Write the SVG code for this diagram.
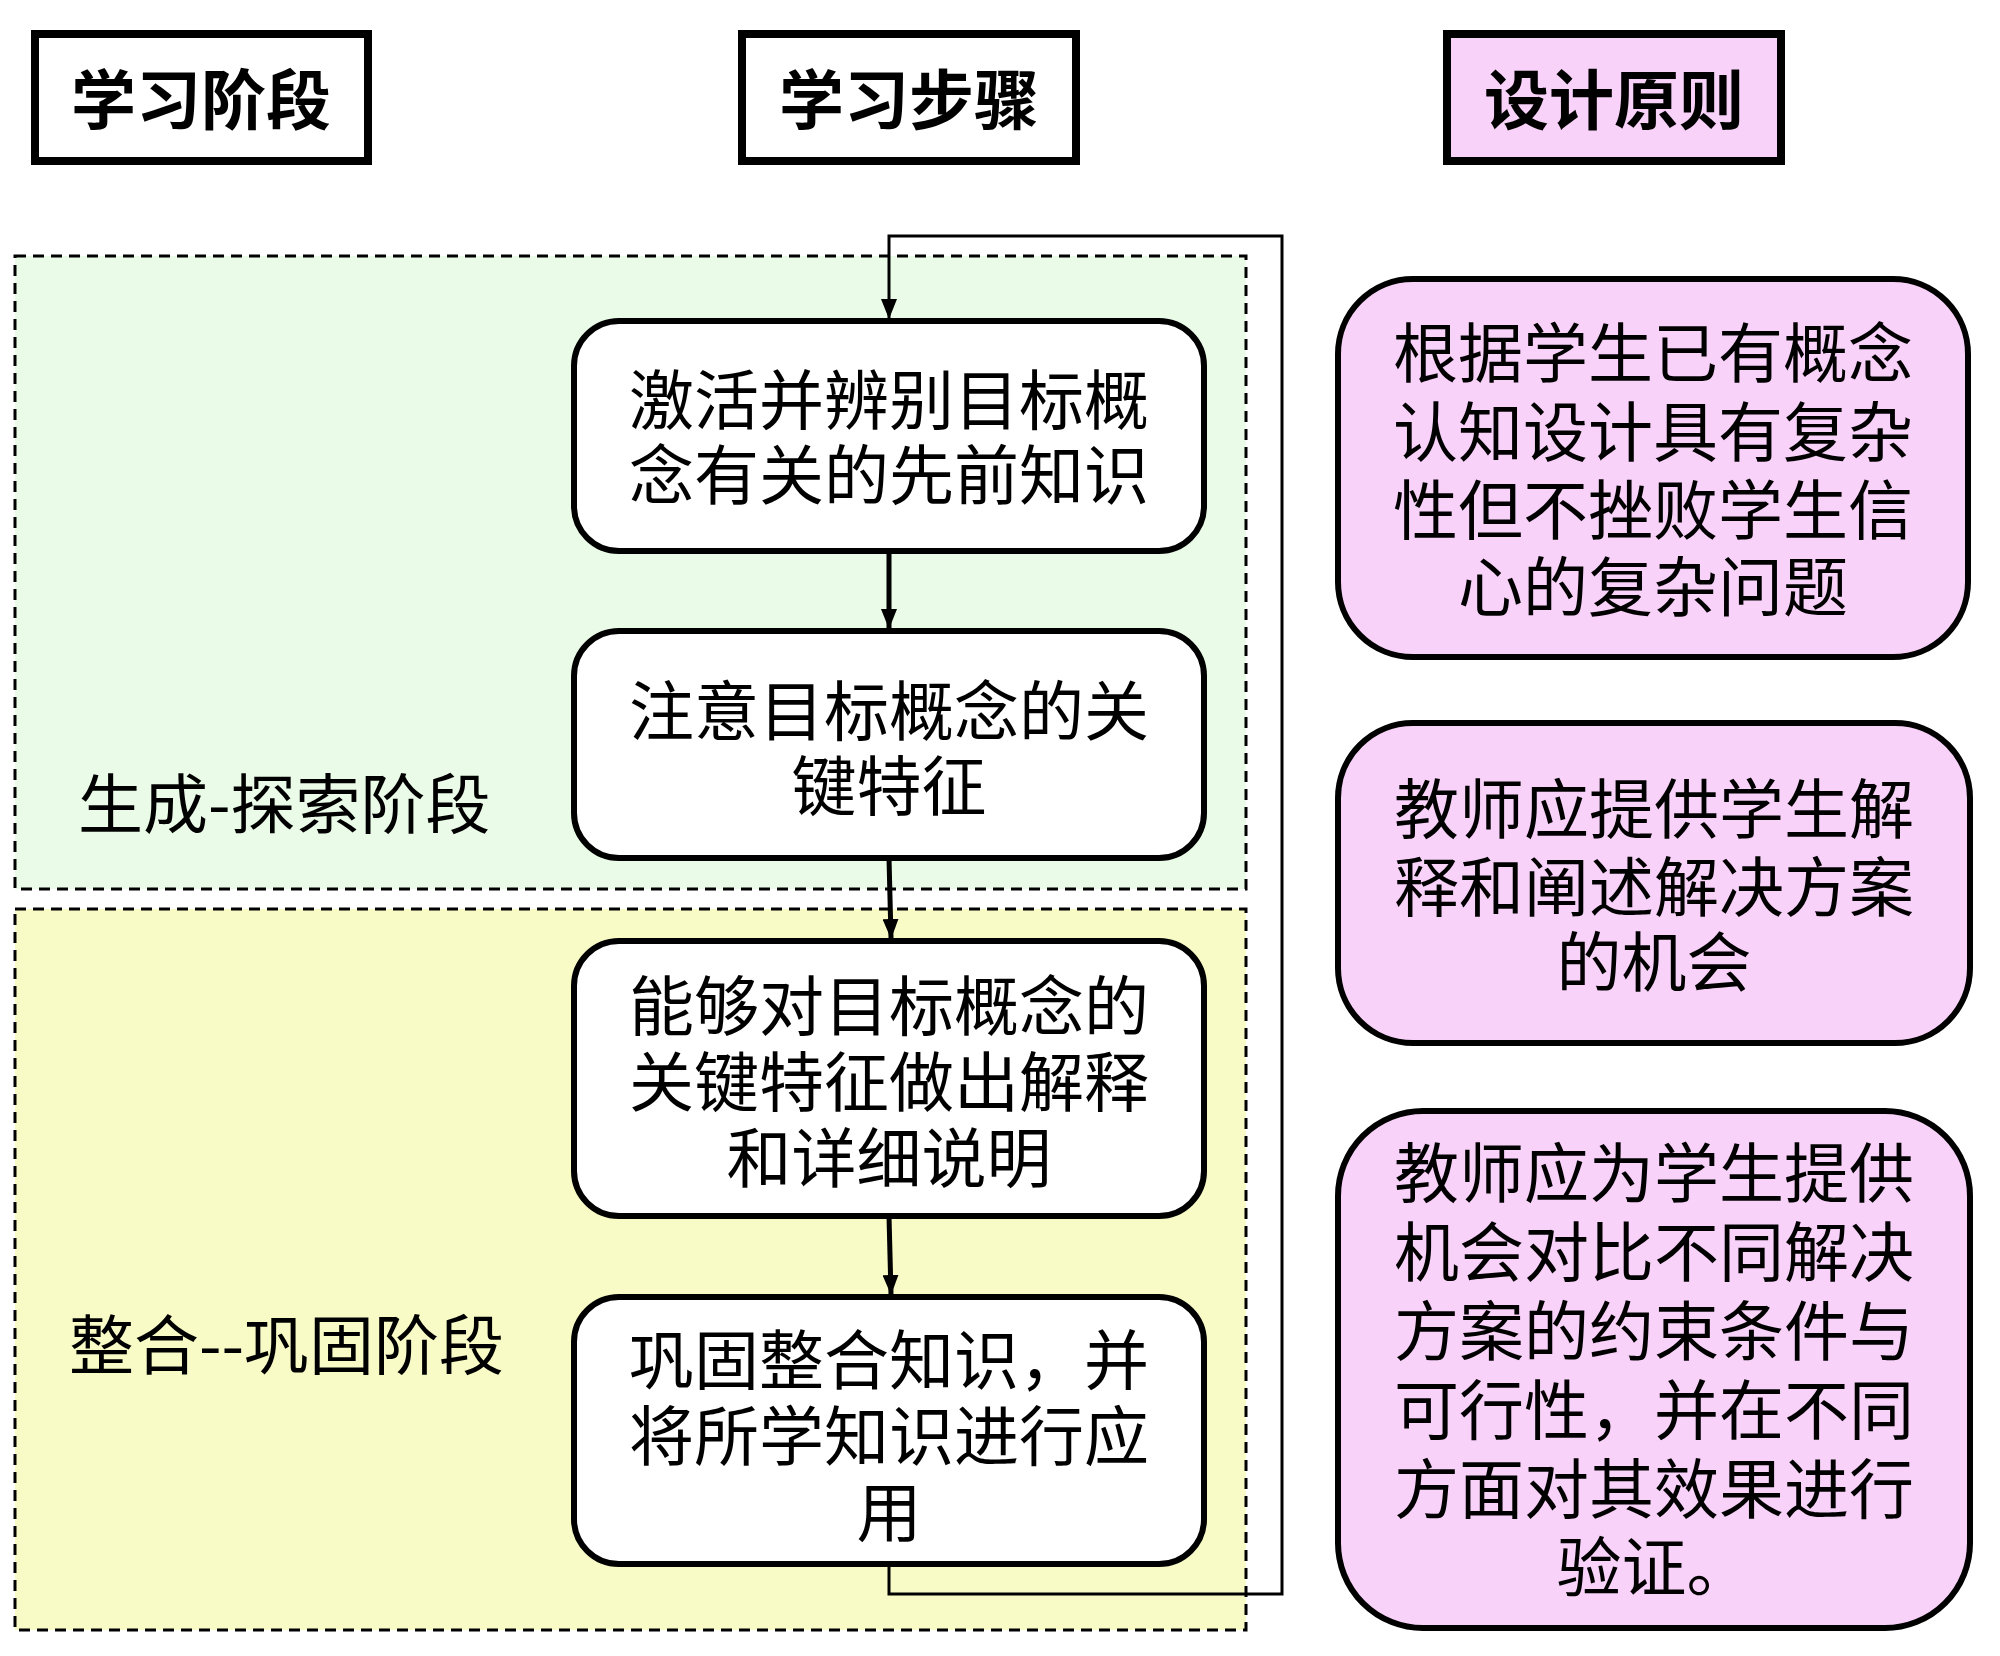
<svg xmlns="http://www.w3.org/2000/svg" width="2000" height="1656" viewBox="0 0 2000 1656">
<style>
.hdr{stroke:#000;stroke-width:8}
.ht{font-family:"Noto Sans CJK SC",sans-serif;font-size:65px;font-weight:bold;fill:#000;text-anchor:middle;dominant-baseline:central}
.zone{stroke:#000;stroke-width:3;stroke-dasharray:11 7}
.step{fill:#fff;stroke:#000;stroke-width:6}
.prin{fill:#F8D2F8;stroke:#000;stroke-width:6}
.t{font-family:"Noto Sans CJK SC",sans-serif;font-size:65px;fill:#000;text-anchor:middle;dominant-baseline:central}
.lab{font-family:"Noto Sans CJK SC",sans-serif;font-size:65px;fill:#000;dominant-baseline:central}
.c{fill:none;stroke:#000;stroke-width:5}
.loop{fill:none;stroke:#000;stroke-width:3}
</style>
<defs>
<marker id="ahb" markerWidth="20" markerHeight="16" refX="19" refY="8" orient="auto" markerUnits="userSpaceOnUse" viewBox="0 0 20 16">
<path d="M0,0 L20,8 L0,16 Z" fill="#000"/>
</marker>
</defs>
<rect width="2000" height="1656" fill="#fff"/>

<g id="zone-explore">
<rect class="zone" x="15" y="256" width="1231" height="633" fill="#EAFBE8"/>
<text class="lab" x="78" y="800">生成-探索阶段</text>
</g>
<g id="zone-integrate">
<rect class="zone" x="15" y="909" width="1231" height="721" fill="#F8FBC6"/>
<text class="lab" x="69" y="1341">整合--巩固阶段</text>
</g>

<g id="hdr-stage">
<rect class="hdr" x="35" y="34" width="333" height="127" fill="#fff"/>
<text class="ht" x="201" y="96">学习阶段</text>
</g>
<g id="hdr-steps">
<rect class="hdr" x="742" y="34" width="334" height="127" fill="#fff"/>
<text class="ht" x="909" y="96">学习步骤</text>
</g>
<g id="hdr-principles">
<rect class="hdr" x="1447" y="34" width="334" height="127" fill="#F8D2F8"/>
<text class="ht" x="1614" y="96">设计原则</text>
</g>

<g id="connectors">
<path class="loop" d="M889,1564 L889,1594 L1282,1594 L1282,236 L889,236 L889,318" marker-end="url(#ahb)"/>
<line class="c" x1="889" y1="551" x2="889" y2="628" marker-end="url(#ahb)"/>
<line class="c" x1="889" y1="858" x2="891" y2="938" marker-end="url(#ahb)"/>
<line class="c" x1="889" y1="1216" x2="891" y2="1294" marker-end="url(#ahb)"/>
</g>

<g id="step1">
<rect class="step" x="574" y="321" width="630" height="230" rx="45"/>
<text class="t" x="889" y="396">激活并辨别目标概<tspan x="889" dy="75">念有关的先前知识</tspan></text>
</g>
<g id="step2">
<rect class="step" x="574" y="631" width="630" height="227" rx="45"/>
<text class="t" x="889" y="707">注意目标概念的关<tspan x="889" dy="75">键特征</tspan></text>
</g>
<g id="step3">
<rect class="step" x="574" y="941" width="630" height="275" rx="45"/>
<text class="t" x="889" y="1002">能够对目标概念的<tspan x="889" dy="76">关键特征做出解释</tspan><tspan x="889" dy="76">和详细说明</tspan></text>
</g>
<g id="step4">
<rect class="step" x="574" y="1297" width="630" height="267" rx="45"/>
<text class="t" x="889" y="1356">巩固整合知识，并<tspan x="889" dy="76">将所学知识进行应</tspan><tspan x="889" dy="76">用</tspan></text>
</g>

<g id="principle1">
<rect class="prin" x="1338" y="279" width="630" height="378" rx="75"/>
<text class="t" x="1653" y="349">根据学生已有概念<tspan x="1653" dy="79">认知设计具有复杂</tspan><tspan x="1653" dy="78">性但不挫败学生信</tspan><tspan x="1653" dy="77">心的复杂问题</tspan></text>
</g>
<g id="principle2">
<rect class="prin" x="1338" y="723" width="632" height="320" rx="75"/>
<text class="t" x="1654" y="805">教师应提供学生解<tspan x="1654" dy="78">释和阐述解决方案</tspan><tspan x="1654" dy="75">的机会</tspan></text>
</g>
<g id="principle3">
<rect class="prin" x="1338" y="1111" width="632" height="517" rx="85"/>
<text class="t" x="1654" y="1169">教师应为学生提供<tspan x="1654" dy="79">机会对比不同解决</tspan><tspan x="1654" dy="79">方案的约束条件与</tspan><tspan x="1654" dy="79">可行性，并在不同</tspan><tspan x="1654" dy="79">方面对其效果进行</tspan><tspan x="1654" dy="78">验证。</tspan></text>
</g>
</svg>
